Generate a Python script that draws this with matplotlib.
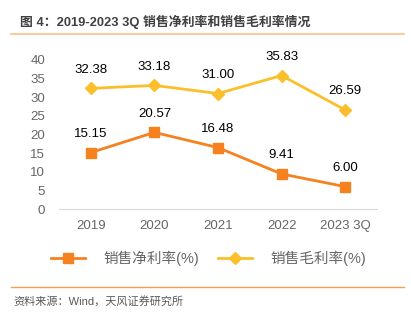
import matplotlib.pyplot as plt
from matplotlib.lines import Line2D

plt.rcParams['font.family'] = ['Liberation Sans', 'Noto Sans CJK SC', 'DejaVu Sans']

categories = ["2019", "2020", "2021", "2022", "2023 3Q"]
net_margin = [15.15, 20.57, 16.48, 9.41, 6.00]
gross_margin = [32.38, 33.18, 31.00, 35.83, 26.59]
y_ticks = [0, 5, 10, 15, 20, 25, 30, 35, 40]

NET_COLOR = "#F5821F"
GROSS_COLOR = "#FBBF2B"
GRAY = "#595959"

W, H = 411, 323
fig = plt.figure(figsize=(W / 100, H / 100), dpi=100)
ax = fig.add_axes([59 / W, 114 / H, (377 - 59) / W, (263 - 114) / H])

x = list(range(len(categories)))
ax.plot(x, net_margin, color=NET_COLOR, lw=2, marker="s", ms=7, label="销售净利率(%)")
ax.plot(x, gross_margin, color=GROSS_COLOR, lw=2, marker="D", ms=6, label="销售毛利率(%)")

for xi, v in zip(x, net_margin):
    ax.annotate(f"{v:.2f}", (xi, v), xytext=(0, 9), textcoords="offset points",
                ha="center", va="bottom", fontsize=9.5, color="black")
for xi, v in zip(x, gross_margin):
    ax.annotate(f"{v:.2f}", (xi, v), xytext=(0, 9), textcoords="offset points",
                ha="center", va="bottom", fontsize=9.5, color="black")

ax.set_xlim(-0.5, len(categories) - 0.5)
ax.set_ylim(0, 40)
ax.set_yticks(y_ticks)
ax.set_xticks(x)
ax.set_xticklabels(categories)
ax.tick_params(axis="both", length=0, labelsize=9.5, colors="#666666")
ax.tick_params(axis="x", pad=8)
ax.tick_params(axis="y", pad=10)
for s in ["top", "right", "left"]:
    ax.spines[s].set_visible(False)
ax.spines["bottom"].set_color("#D9D9D9")

handles = [
    Line2D([], [], color=NET_COLOR, lw=2, marker="s", ms=7),
    Line2D([], [], color=GROSS_COLOR, lw=2, marker="D", ms=6),
]
fig.legend(handles, ["销售净利率(%)", "销售毛利率(%)"], loc="center",
           bbox_to_anchor=(209 / W, 1 - 258 / H), ncol=2, frameon=False,
           fontsize=10.5, labelcolor="#666666", handlelength=2.3, columnspacing=1.3,
           handletextpad=1.3)

fig.text(20 / W, 1 - 22 / H, "图 4：2019-2023 3Q 销售净利率和销售毛利率情况",
         fontsize=9.3, fontweight="bold", color="#404040", va="center", ha="left")
fig.add_artist(Line2D([11 / W, 404 / W], [1 - 34 / H] * 2, color="#F9C08A", lw=1.2))
fig.add_artist(Line2D([11 / W, 404 / W], [1 - 287 / H] * 2, color="#F0A050", lw=1))
fig.text(13 / W, 1 - 301 / H, "资料来源：Wind，天风证券研究所",
         fontsize=8, color=GRAY, va="center", ha="left")

fig.savefig("out.png", dpi=100)
